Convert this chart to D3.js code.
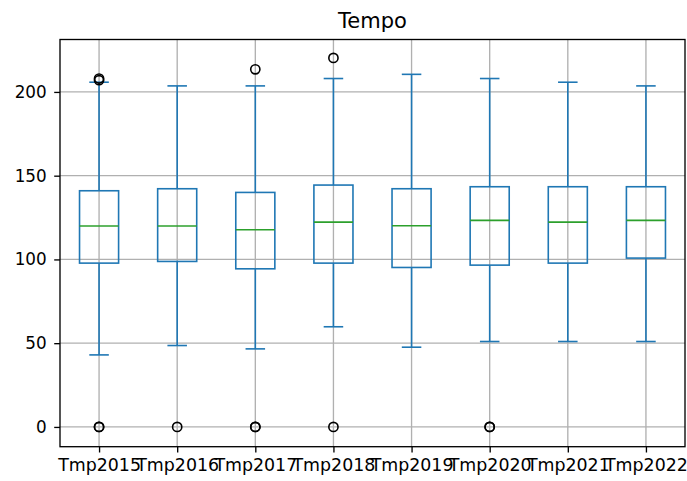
<!DOCTYPE html>
<html>
<head>
<meta charset="utf-8">
<script src="https://cdn.jsdelivr.net/npm/d3@7"></script>
<style>
  html, body { margin: 0; padding: 0; background: #fff; }
  svg { display: block; font-family: "DejaVu Sans", sans-serif; }
</style>
</head>
<body>
<svg id="chart" width="687" height="481"></svg>
<script>
const categories = ["Tmp2015","Tmp2016","Tmp2017","Tmp2018","Tmp2019","Tmp2020","Tmp2021","Tmp2022"];
const whiskerLow  = [43, 48.6, 46.6, 59.8, 47.6, 51, 51, 51];
const q1          = [97.8, 98.8, 94.4, 97.8, 95.2, 96.6, 97.8, 100.8];
const medians     = [120, 120, 117.7, 122.3, 120.1, 123.3, 122.3, 123.3];
const q3          = [141, 142.2, 140, 144.4, 142.2, 143.4, 143.4, 143.4];
const whiskerHigh = [205.8, 203.6, 203.6, 208, 210.5, 208, 205.8, 203.6];
const outliers    = [[207, 208, 0, 0], [0], [213.5, 0, 0], [220.3, 0], [], [0, 0], [], []];
const yTicks      = [0, 50, 100, 150, 200];
const title       = "Tempo";

const svg = d3.select("#chart");
const L = 60, R = 685, T = 39.5, B = 446.7;

const x = d3.scalePoint().domain(categories).range([L, R]).padding(0.5);
const y = d3.scaleLinear().domain([-11.8, 231.3]).range([B, T]);
const step = x.step();
const boxW = step * 0.5, capW = step * 0.25;

const blue = "#1f77b4", green = "#2ca02c", lw = 1.6;

// grid
const grid = svg.append("g");
grid.selectAll("line.gy").data(yTicks).join("line")
  .attr("x1", L).attr("x2", R)
  .attr("y1", d => y(d)).attr("y2", d => y(d))
  .attr("stroke", "#b0b0b0").attr("stroke-width", 1.33);
grid.selectAll("line.gx").data(categories).join("line")
  .attr("y1", T).attr("y2", B)
  .attr("x1", d => x(d)).attr("x2", d => x(d))
  .attr("stroke", "#b0b0b0").attr("stroke-width", 1.33);

// boxes
const rows = categories.map((c, i) => ({c, lo: whiskerLow[i], q1: q1[i], med: medians[i], q3: q3[i], hi: whiskerHigh[i], out: outliers[i]}));
const g = svg.append("g");
rows.forEach(r => {
  const cx = x(r.c);
  g.append("line").attr("x1", cx).attr("x2", cx).attr("y1", y(r.q1)).attr("y2", y(r.lo))
    .attr("stroke", blue).attr("stroke-width", lw);
  g.append("line").attr("x1", cx).attr("x2", cx).attr("y1", y(r.q3)).attr("y2", y(r.hi))
    .attr("stroke", blue).attr("stroke-width", lw);
  g.append("line").attr("x1", cx - capW/2).attr("x2", cx + capW/2).attr("y1", y(r.lo)).attr("y2", y(r.lo))
    .attr("stroke", blue).attr("stroke-width", lw);
  g.append("line").attr("x1", cx - capW/2).attr("x2", cx + capW/2).attr("y1", y(r.hi)).attr("y2", y(r.hi))
    .attr("stroke", blue).attr("stroke-width", lw);
  g.append("rect").attr("x", cx - boxW/2).attr("width", boxW)
    .attr("y", y(r.q3)).attr("height", y(r.q1) - y(r.q3))
    .attr("fill", "none").attr("stroke", blue).attr("stroke-width", lw);
  g.append("line").attr("x1", cx - boxW/2).attr("x2", cx + boxW/2).attr("y1", y(r.med)).attr("y2", y(r.med))
    .attr("stroke", green).attr("stroke-width", lw);
  g.selectAll(null).data(r.out).join("circle")
    .attr("cx", cx).attr("cy", d => y(d)).attr("r", 4.6)
    .attr("fill", "none").attr("stroke", "#000").attr("stroke-width", 1.6);
});

// spines
svg.append("rect").attr("x", L).attr("y", T).attr("width", R - L).attr("height", B - T)
  .attr("fill", "none").attr("stroke", "#000").attr("stroke-width", 1.33);

// axes
const yAxis = svg.append("g").attr("transform", `translate(${L},0)`)
  .call(d3.axisLeft(y).tickValues(yTicks).tickSize(5.8).tickPadding(7.5).tickFormat(d3.format("d")));
const xAxis = svg.append("g").attr("transform", `translate(0,${B})`)
  .call(d3.axisBottom(x).tickSize(5.8).tickPadding(5.8));
[yAxis, xAxis].forEach(a => {
  a.select(".domain").remove();
  a.selectAll(".tick line").attr("stroke", "#000").attr("stroke-width", 1.33);
  a.selectAll(".tick text").attr("fill", "#000").style("font-family", "DejaVu Sans");
});
yAxis.selectAll(".tick text").style("font-size", "16.8px");
xAxis.selectAll(".tick text").style("font-size", "17.4px");

svg.append("text").attr("x", (L + R) / 2).attr("y", 28)
  .attr("text-anchor", "middle").style("font-size", "21px").attr("fill", "#000").text(title);
</script>
</body>
</html>
